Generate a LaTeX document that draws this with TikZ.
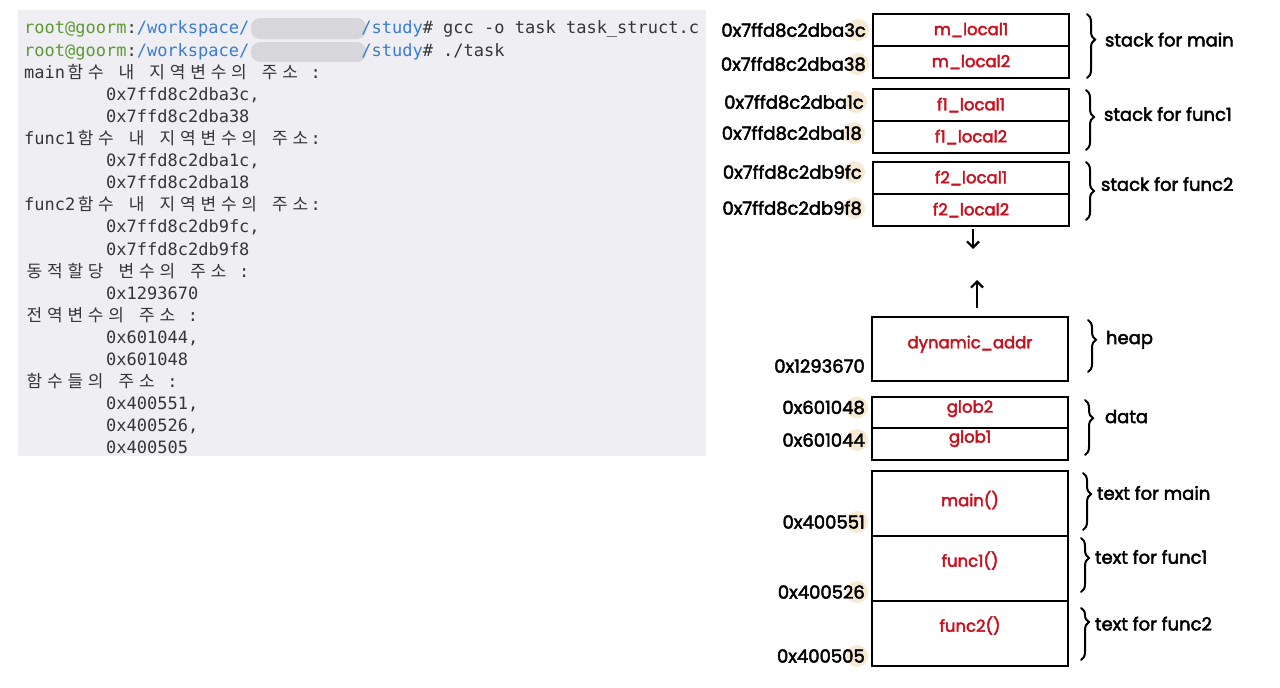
\documentclass[tikz,border=0pt]{standalone}
\usepackage{fontspec}
\setmonofont{DejaVu Sans Mono}
\newfontfamily\krfont{Noto Sans CJK KR}
\newfontfamily\hand{Poppins}[FakeBold=2.6]
\usetikzlibrary{arrows.meta,positioning,decorations.pathreplacing,backgrounds}

\definecolor{termbg}{HTML}{EEEEF3}
\definecolor{termtxt}{HTML}{363636}
\definecolor{promptgreen}{HTML}{5E9A35}
\definecolor{pathblue}{HTML}{3C7DD0}
\definecolor{memred}{HTML}{C8101E}
\definecolor{hilite}{HTML}{F7EAD5}
\definecolor{blurgray}{HTML}{D6D6DB}

% every hangul syllable takes two terminal cells
\newcommand\hangul[1]{\hgloop#1\relax}
\def\hgloop#1{\ifx\relax#1\else\makebox[20.46pt]{\krfont#1}\expandafter\hgloop\fi}

\begin{document}
\begin{tikzpicture}[x=1pt, y=-1pt,
    term/.style={font=\ttfamily\fontsize{17pt}{20pt}\selectfont, text=termtxt, anchor=base west, inner sep=0pt},
    cell/.style={draw, line width=2.6pt, minimum width=196pt, minimum height=32pt, outer sep=0pt, inner sep=0pt, font=\hand\fontsize{16.5pt}{16.5pt}\selectfont, text=memred},
    addr/.style={font=\hand\fontsize{18pt}{18pt}\selectfont, anchor=east, inner sep=1pt},
    lbl/.style={font=\hand\fontsize{18pt}{18pt}\selectfont, anchor=west, inner sep=1pt},
    brc/.style={decorate, decoration={brace, amplitude=8pt, aspect=#1}, line width=2pt, line cap=round},
    brc/.default=0.4,
    arr/.style={-{Straight Barb[length=6pt, width=12pt]}, line width=2.2pt}]

  \useasboundingbox (0,0) rectangle (1280,688);

  % terminal output
  \node[term] (l1) at (24,34) {\textcolor{promptgreen}{root@goorm}:\textcolor{pathblue}{/workspace/\hspace{112pt}/study}\# gcc -o task task\_struct.c};
  \node[term] (l2) at (24,56.1) {\textcolor{promptgreen}{root@goorm}:\textcolor{pathblue}{/workspace/\hspace{112pt}/study}\# ./task};
  \node[term] (l3) at (24,78.2) {main\hangul{함수} \hangul{내} \hangul{지역변수의} \hangul{주소} :};
  \node[term] (l4) at (106,100.3) {0x7ffd8c2dba3c,};
  \node[term] (l5) at (106,122.4) {0x7ffd8c2dba38};
  \node[term] (l6) at (24,144.5) {func1\hangul{함수} \hangul{내} \hangul{지역변수의} \hangul{주소}:};
  \node[term] (l7) at (106,166.6) {0x7ffd8c2dba1c,};
  \node[term] (l8) at (106,188.7) {0x7ffd8c2dba18};
  \node[term] (l9) at (24,210.8) {func2\hangul{함수} \hangul{내} \hangul{지역변수의} \hangul{주소}:};
  \node[term] (l10) at (106,232.9) {0x7ffd8c2db9fc,};
  \node[term] (l11) at (106,255) {0x7ffd8c2db9f8};
  \node[term] (l12) at (24,277.1) {\hangul{동적할당} \hangul{변수의} \hangul{주소} :};
  \node[term] (l13) at (106,299.2) {0x1293670};
  \node[term] (l14) at (24,321.3) {\hangul{전역변수의} \hangul{주소} :};
  \node[term] (l15) at (106,343.4) {0x601044,};
  \node[term] (l16) at (106,365.5) {0x601048};
  \node[term] (l17) at (24,387.6) {\hangul{함수들의} \hangul{주소} :};
  \node[term] (l18) at (106,409.7) {0x400551,};
  \node[term] (l19) at (106,431.8) {0x400526,};
  \node[term] (l20) at (106,453.9) {0x400505};

  % stack
  \node[cell] (m1) at (971,30) {m\_local1};
  \node[cell, below=0pt of m1] (m2) {m\_local2};
  \node[cell] (f1a) at (971,105) {f1\_local1};
  \node[cell, below=0pt of f1a] (f1b) {f1\_local2};
  \node[cell] (f2a) at (971,178) {f2\_local1};
  \node[cell, below=0pt of f2a] (f2b) {f2\_local2};

  % heap, data, text
  \node[cell, minimum height=64pt, text depth=14pt] (heap) at (970,349) {dynamic\_addr};
  \node[cell, minimum height=31pt, text depth=12pt] (g2) at (970,412.5) {glob2};
  \node[cell, below=0pt of g2, text depth=15pt] (g1) {glob1};
  \node[cell, minimum height=65pt, text depth=10pt] (tmain) at (970,503.5) {main()};
  \node[cell, minimum height=65pt, text depth=19pt, below=0pt of tmain] (tf1) {func1()};
  \node[cell, minimum height=65pt, text depth=19pt, below=0pt of tf1] (tf2) {func2()};

  % addresses
  \node[addr] (am1) at ([xshift=-6pt]m1.west) {0x7ffd8c2dba3c};
  \node[addr] (am2) at ([xshift=-6pt,yshift=-2pt]m2.west) {0x7ffd8c2dba38};
  \node[addr] (af1a) at ([xshift=-8pt,yshift=3pt]f1a.west) {0x7ffd8c2dba1c};
  \node[addr] (af1b) at ([xshift=-10pt,yshift=4pt]f1b.west) {0x7ffd8c2dba18};
  \node[addr] (af2a) at ([xshift=-10pt,yshift=6pt]f2a.west) {0x7ffd8c2db9fc};
  \node[addr] (af2b) at ([xshift=-10pt,yshift=2pt]f2b.west) {0x7ffd8c2db9f8};
  \node[addr] (ah) at ([xshift=-6pt,yshift=-17pt]heap.west) {0x1293670};
  \node[addr] (ag2) at ([xshift=-6pt,yshift=5pt]g2.west) {0x601048};
  \node[addr] (ag1) at ([xshift=-6pt,yshift=4pt]g1.west) {0x601044};
  \node[addr] (amain) at ([xshift=-6pt,yshift=14pt]tmain.south west) {0x400551};
  \node[addr] (afunc1) at ([xshift=-6pt,yshift=9pt]tf1.south west) {0x400526};
  \node[addr] (afunc2) at ([xshift=-6pt,yshift=10pt]tf2.south west) {0x400505};

  % braces and segment names
  \draw[brc=0.4] ([xshift=18pt]m1.north east) -- ([xshift=18pt]m2.south east)
    node[lbl, pos=0.4, right=16pt] {stack for main};
  \draw[brc=0.45] ([xshift=17pt,yshift=-1pt]f1a.north east) -- ([xshift=17pt,yshift=3pt]f1b.south east)
    node[lbl, pos=0.4, right=16pt] {stack for func1};
  \draw[brc=0.5] ([xshift=17pt]f2a.north east) -- ([xshift=17pt,yshift=6pt]f2b.south east)
    node[lbl, pos=0.38, right=13pt] {stack for func2};
  \draw[brc=0.38] ([xshift=20pt,yshift=-3pt]heap.north east) -- ([xshift=20pt,yshift=9pt]heap.south east)
    node[lbl, pos=0.38, right=16pt] {heap};
  \draw[brc=0.33] ([xshift=17pt,yshift=-3pt]g2.north east) -- ([xshift=17pt,yshift=5pt]g1.south east)
    node[lbl, pos=0.3, right=18pt] {data};
  \draw[brc=0.37] ([xshift=15pt,yshift=-2pt]tmain.north east) -- ([xshift=15pt,yshift=6pt]tmain.south east)
    node[lbl, pos=0.35, right=12pt] {text for main};
  \draw[brc=0.37] ([xshift=13pt,yshift=-2pt]tf1.north east) -- ([xshift=13pt,yshift=9pt]tf1.south east)
    node[lbl, pos=0.35, right=12pt] {text for func1};
  \draw[brc=0.27] ([xshift=13pt,yshift=-7pt]tf2.north east) -- ([xshift=13pt,yshift=6pt]tf2.south east)
    node[lbl, pos=0.3, right=12pt] {text for func2};

  % growth directions
  \coordinate (dtop) at ([xshift=2pt,yshift=-3pt]f2b.south);
  \coordinate (dbot) at ([yshift=-20pt]dtop);
  \draw[arr] (dtop) -- (dbot);
  \coordinate (ubot) at ([xshift=7pt,yshift=9pt]heap.north);
  \coordinate (utop) at ([yshift=28pt]ubot);
  \draw[arr] (ubot) -- (utop);

  \begin{scope}[on background layer]
    \fill[termbg] (18,10) rectangle (706,456);
    \fill[blurgray, rounded corners=9pt] (251,18) rectangle (366,39);
    \fill[blurgray, rounded corners=9pt] (251,42) rectangle (366,62);
    \foreach \a in {am1,am2,af1a,af1b,af2a,af2b,ag2,ag1,amain,afunc1,afunc2}
      \fill[hilite] ([xshift=-9pt]\a.east) circle (11);
  \end{scope}
\end{tikzpicture}
\end{document}
